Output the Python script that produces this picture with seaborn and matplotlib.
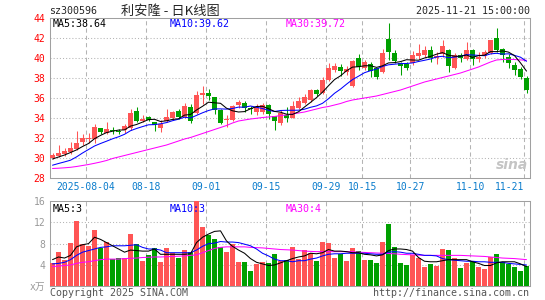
import seaborn as sns
import matplotlib.pyplot as plt
import numpy as np
import pandas as pd

# ---- data ----
holidays = ['2025-10-01', '2025-10-02', '2025-10-03', '2025-10-06', '2025-10-07', '2025-10-08']
dates = [d.strftime('%Y-%m-%d') for d in pd.bdate_range('2025-07-25', '2025-11-21')
         if d.strftime('%Y-%m-%d') not in holidays]

opens = [30.0, 30.15, 30.4, 30.55, 30.9, 31.55, 31.9, 31.9, 33.0, 32.5,
         32.8, 32.65, 32.75, 33.0, 34.7, 33.65, 34.05, 33.55, 33.0, 33.7,
         33.95, 34.65, 34.05, 35.1, 34.45, 36.3, 36.45, 36.0, 34.8, 33.75,
         33.8, 35.25, 35.45, 35.0, 34.55, 34.55, 35.2, 34.1, 33.45, 34.2,
         34.0, 35.0, 35.45, 35.75, 36.75, 36.45, 37.8, 38.8, 39.05, 38.6,
         37.15, 40.0, 39.0, 39.4, 38.9, 38.6, 41.85, 40.45, 39.45, 39.4,
         39.45, 40.2, 40.25, 40.75, 40.0, 40.4, 40.75, 38.95, 40.25, 39.9,
         40.75, 39.85, 40.15, 40.5, 42.0, 40.85, 40.05, 39.3, 38.85, 37.95]
closes = [30.25, 30.5, 30.6, 30.95, 31.5, 31.95, 32.0, 33.0, 32.6, 32.9,
          32.65, 32.55, 33.1, 34.5, 33.7, 33.85, 33.8, 33.25, 33.4, 34.05,
          34.55, 34.1, 35.1, 33.7, 36.3, 36.4, 36.15, 34.8, 33.45, 33.85,
          35.1, 35.55, 35.0, 34.85, 35.0, 35.2, 34.35, 33.65, 34.45, 34.0,
          35.1, 35.65, 36.05, 36.75, 36.4, 37.8, 38.9, 39.1, 38.65, 38.9,
          39.65, 39.1, 39.55, 38.7, 38.05, 40.45, 40.55, 39.7, 39.2, 39.0,
          40.3, 40.45, 40.8, 40.0, 40.1, 41.1, 39.15, 40.3, 39.95, 40.75,
          39.9, 40.05, 40.5, 41.75, 40.75, 40.25, 39.45, 38.75, 38.1, 36.75]
highs = [30.45, 31.25, 31.0, 31.55, 32.7, 32.4, 32.5, 33.4, 33.0, 33.55,
         33.05, 32.9, 33.4, 34.9, 35.05, 34.25, 34.2, 33.6, 33.75, 34.85,
         34.65, 34.9, 35.45, 35.4, 36.7, 37.2, 36.9, 36.1, 34.85, 34.25,
         35.3, 35.75, 35.7, 35.15, 35.4, 35.45, 35.35, 34.2, 34.8, 35.1,
         35.7, 36.1, 36.4, 36.9, 36.9, 38.05, 39.45, 39.5, 39.4, 39.2,
         39.75, 40.4, 39.8, 39.6, 39.0, 40.9, 43.45, 40.8, 39.6, 39.55,
         40.65, 41.4, 41.2, 41.2, 40.6, 41.8, 40.85, 40.5, 40.5, 41.55,
         40.9, 40.6, 40.75, 41.8, 42.95, 41.0, 40.4, 39.6, 39.05, 38.15]
lows = [29.85, 30.05, 30.2, 30.4, 30.75, 31.25, 31.5, 31.45, 32.4, 32.4,
        32.4, 32.4, 32.5, 32.8, 33.6, 33.6, 33.7, 32.7, 32.6, 33.6,
        33.8, 33.9, 33.95, 33.5, 34.4, 35.4, 35.75, 34.4, 33.35, 33.05,
        33.7, 35.0, 34.6, 34.4, 34.25, 34.4, 33.9, 32.8, 33.3, 33.55,
        33.95, 34.9, 35.4, 35.6, 36.2, 36.4, 37.7, 38.6, 38.2, 38.3,
        37.05, 38.8, 38.8, 38.1, 37.9, 38.5, 39.8, 39.5, 38.25, 38.8,
        39.3, 39.9, 40.1, 39.55, 39.4, 40.05, 38.6, 38.9, 39.6, 39.8,
        39.3, 39.6, 39.95, 40.4, 40.55, 39.55, 38.95, 38.3, 37.9, 36.5]
volumes = [4.4, 6.5, 4.9, 8.1, 12.2, 7.9, 7.5, 10.5, 7.1, 8.4,
           5.1, 5.4, 5.4, 9.8, 7.9, 4.8, 5.8, 7.1, 4.5, 7.1,
           6.3, 5.3, 6.9, 6.5, 16.0, 11.1, 9.6, 8.9, 7.4, 6.4,
           8.0, 4.5, 4.5, 2.9, 4.2, 4.6, 4.4, 6.0, 4.8, 5.0,
           7.3, 5.2, 6.9, 6.3, 4.8, 8.4, 8.2, 5.4, 6.0, 4.8,
           7.1, 6.6, 5.0, 5.0, 4.4, 8.3, 11.7, 7.3, 4.4, 4.0,
           5.9, 5.4, 3.7, 4.2, 3.9, 7.0, 6.8, 5.3, 3.4, 4.3,
           4.8, 3.7, 3.2, 5.5, 6.0, 4.6, 4.2, 3.6, 2.9, 3.8]

ma5 = [29.85, 30.05, 30.25, 30.5, 30.76, 31.1, 31.4, 31.88, 32.21, 32.49,
       32.63, 32.74, 32.76, 33.14, 33.3, 33.54, 33.79, 33.82, 33.6, 33.67,
       33.81, 33.87, 34.24, 34.3, 34.75, 35.12, 35.53, 35.47, 35.42, 34.93,
       34.67, 34.55, 34.59, 34.87, 35.1, 35.12, 34.88, 34.61, 34.53, 34.33,
       34.31, 34.57, 35.05, 35.51, 35.99, 36.53, 37.18, 37.79, 38.17, 38.67,
       39.04, 39.08, 39.17, 39.18, 39.01, 39.17, 39.46, 39.49, 39.59, 39.78,
       39.75, 39.73, 39.95, 40.11, 40.33, 40.49, 40.23, 40.13, 40.12, 40.25,
       40.01, 40.19, 40.23, 40.59, 40.59, 40.66, 40.54, 40.19, 39.46, 38.64]
ma10 = [29.23, 29.4, 29.56, 29.73, 30.06, 30.45, 30.8, 31.15, 31.4, 31.63,
        31.87, 32.07, 32.32, 32.68, 32.9, 33.09, 33.27, 33.29, 33.37, 33.49,
        33.68, 33.83, 34.03, 33.95, 34.21, 34.47, 34.7, 34.86, 34.86, 34.84,
        34.9, 35.04, 35.03, 35.15, 35.02, 34.9, 34.72, 34.6, 34.7, 34.72,
        34.72, 34.73, 34.83, 35.02, 35.16, 35.42, 35.88, 36.42, 36.84, 37.33,
        37.79, 38.13, 38.48, 38.68, 38.84, 39.11, 39.27, 39.33, 39.39, 39.4,
        39.46, 39.6, 39.72, 39.85, 40.06, 40.12, 39.98, 40.04, 40.12, 40.29,
        40.25, 40.21, 40.18, 40.36, 40.42, 40.34, 40.37, 40.21, 40.03, 39.62]
ma30 = [28.9, 28.93, 28.97, 29.02, 29.1, 29.2, 29.3, 29.42, 29.55, 29.7,
        29.9, 30.05, 30.2, 30.35, 30.5, 30.65, 30.8, 30.95, 31.1, 31.25,
        31.45, 31.65, 31.85, 32.0, 32.2, 32.4, 32.6, 32.8, 33.0, 33.2,
        33.45, 33.65, 33.75, 33.85, 33.92, 34.0, 34.05, 34.1, 34.2, 34.25,
        34.35, 34.45, 34.55, 34.7, 34.85, 35.0, 35.1, 35.25, 35.4, 35.6,
        35.75, 35.85, 35.95, 36.05, 36.15, 36.3, 36.45, 36.6, 36.75, 36.95,
        37.15, 37.35, 37.55, 37.7, 37.85, 38.0, 38.15, 38.3, 38.45, 38.65,
        38.85, 39.05, 39.3, 39.55, 39.75, 39.8, 39.82, 39.8, 39.76, 39.72]
vol_ma5 = [5.0, 5.5, 5.3, 5.8, 7.4, 7.8, 8.0, 9.2, 8.8, 8.2,
           7.6, 7.0, 6.4, 6.8, 6.7, 6.6, 6.6, 7.0, 6.0, 6.0,
           6.0, 6.0, 6.0, 6.1, 8.2, 9.2, 9.8, 10.3, 10.4, 8.5,
           7.5, 6.8, 6.2, 5.2, 4.5, 4.2, 3.9, 4.0, 4.4, 4.8,
           5.2, 5.5, 5.7, 6.2, 6.1, 6.3, 6.9, 6.6, 6.6, 6.5,
           6.3, 6.3, 6.0, 5.9, 5.7, 5.9, 6.7, 7.0, 7.0, 6.9,
           6.6, 5.4, 4.7, 4.6, 4.6, 4.8, 5.0, 5.0, 5.0, 5.0,
           4.6, 4.3, 3.9, 3.9, 4.4, 4.6, 4.6, 4.6, 4.2, 3.7]
vol_ma10 = [4.2, 4.3, 4.5, 5.0, 5.8, 6.4, 6.7, 7.0, 7.3, 7.4,
            7.6, 7.6, 7.6, 7.7, 7.8, 7.3, 7.0, 7.0, 6.8, 6.3,
            6.3, 6.3, 6.3, 6.3, 6.8, 7.5, 8.0, 8.1, 8.4, 8.3,
            8.3, 8.2, 7.9, 7.6, 7.0, 6.2, 5.7, 5.1, 4.8, 4.8,
            4.6, 4.8, 4.8, 5.1, 5.3, 5.7, 6.0, 6.1, 6.1, 6.2,
            6.2, 6.2, 6.2, 6.1, 6.0, 6.0, 6.4, 6.5, 6.4, 6.2,
            6.2, 6.0, 5.8, 5.8, 5.7, 5.2, 5.0, 4.9, 4.8, 4.7,
            4.7, 4.6, 4.6, 4.5, 4.5, 4.5, 4.3, 4.2, 4.1, 4.0]
vol_ma30 = [3.7, 3.8, 3.9, 4.0, 4.3, 4.5, 4.6, 4.8, 5.0, 5.1,
            5.1, 5.1, 5.2, 5.25, 5.3, 5.4, 5.45, 5.5, 5.5, 5.55,
            5.6, 5.65, 5.7, 5.8, 5.9, 6.3, 6.7, 7.1, 7.3, 7.4,
            7.4, 7.4, 7.4, 7.3, 7.25, 7.2, 7.1, 7.0, 6.9, 6.85,
            6.8, 6.7, 6.6, 6.55, 6.5, 6.5, 6.5, 6.5, 6.5, 6.5,
            6.5, 6.4, 6.35, 6.3, 6.25, 6.2, 6.15, 6.1, 6.0, 5.95,
            5.9, 5.85, 5.8, 5.8, 5.8, 5.8, 5.8, 5.8, 5.8, 5.75,
            5.7, 5.65, 5.6, 5.5, 5.4, 5.3, 5.25, 5.2, 5.1, 5.0]

tick_dates = ['2025-08-04', '2025-08-18', '2025-09-01', '2025-09-15', '2025-09-29',
              '2025-10-15', '2025-10-27', '2025-11-10', '2025-11-21']
tick_labels = ['2025-08-04', '08-18', '09-01', '09-15', '09-29', '10-15', '10-27', '11-10', '11-21']
price_ticks = [28, 30, 32, 34, 36, 38, 40, 42, 44]
vol_ticks = [0, 4, 8, 12, 16]
vol_tick_labels = ['x万', '4', '8', '12', '16']

# ---- style ----
sns.set_style('white')
plt.rcParams['font.family'] = ['DejaVu Sans Mono', 'Noto Sans CJK SC']
RED, GREEN = '#ff5555', '#00a000'
GRID = '#b4b4b4'
FRAME = '#a0a0a0'
LW = 0.75  # about one pixel
W, H = 545, 300

def fx(x):
    return x / W

def fy(y):
    return 1 - y / H

idx = np.arange(len(dates))
up = np.array(closes) >= np.array(opens)
colors = np.where(up, RED, GREEN)
tick_pos = [dates.index(d) - 0.4 for d in tick_dates]

fig = plt.figure(figsize=(W / 100, H / 100), dpi=100)
ax_p = fig.add_axes([fx(50), fy(177.5), fx(529.5) - fx(50), fy(17.5) - fy(177.5)])
ax_v = fig.add_axes([fx(50), fy(286.3), fx(529.5) - fx(50), fy(201) - fy(286.3)])

# candles
body_lo = np.minimum(opens, closes)
body_h = np.maximum(np.abs(np.array(closes) - np.array(opens)), 0.07)
ax_p.vlines(idx, lows, highs, colors=colors, linewidth=LW, zorder=3)
ax_p.bar(idx, body_h, bottom=body_lo, width=0.72, color=colors, linewidth=0, zorder=4)
sns.lineplot(x=idx, y=ma30, ax=ax_p, color='#ff00ff', linewidth=LW, zorder=5)
sns.lineplot(x=idx, y=ma10, ax=ax_p, color='#0000ff', linewidth=LW, zorder=6)
sns.lineplot(x=idx, y=ma5, ax=ax_p, color='black', linewidth=LW, zorder=7)

# volume
ax_v.bar(idx, volumes, width=0.84, color=colors, linewidth=0, zorder=3)
sns.lineplot(x=idx, y=vol_ma30, ax=ax_v, color='#ff00ff', linewidth=LW, zorder=5)
sns.lineplot(x=idx, y=vol_ma10, ax=ax_v, color='#0000ff', linewidth=LW, zorder=6)
sns.lineplot(x=idx, y=vol_ma5, ax=ax_v, color='black', linewidth=LW, zorder=7)

for ax in (ax_p, ax_v):
    ax.set_xlim(-0.42, 79.5)
    for p in tick_pos:
        ax.axvline(p, color=GRID, linewidth=LW, linestyle=(0, (4, 3)), zorder=1)
    for s in ax.spines.values():
        s.set_color(FRAME)
        s.set_linewidth(LW)
    ax.tick_params(length=0)
    ax.set_xlabel('')
    ax.set_ylabel('')

ax_p.set_ylim(28, 44)
for v in price_ticks[1:-1]:
    ax_p.axhline(v, color=GRID, linewidth=LW, linestyle=(0, (1, 2)), zorder=1)
ax_p.set_yticks(price_ticks)
ax_p.set_yticklabels([str(v) for v in price_ticks], color='#ff0000', fontsize=7)
ax_p.tick_params(axis='y', pad=3.5)
ax_p.set_xticks(tick_pos)
ax_p.set_xticklabels(tick_labels, color='#0a7ccc', fontsize=7)
ax_p.tick_params(axis='x', pad=3)
ax_p.get_xticklabels()[-1].set_ha('right')

ax_v.set_ylim(0, 16)
for v in vol_ticks[1:-1]:
    ax_v.axhline(v, color=GRID, linewidth=LW, linestyle=(0, (1, 2)), zorder=1)
ax_v.set_yticks(vol_ticks)
ax_v.set_yticklabels(vol_tick_labels, color='#999999', fontsize=7)
ax_v.tick_params(axis='y', pad=3.5)
ax_v.set_xticks([])

# texts
fig.text(fx(49), fy(11), 'sz300596', fontsize=7.2, va='center', ha='left')
fig.text(fx(121), fy(11), '利安隆 - 日K线图', fontsize=9.5, va='center', ha='left',
         family=['Noto Sans CJK SC'])
fig.text(fx(529.5), fy(11), '2025-11-21 15:00:00', fontsize=7.2, va='center', ha='right')
fig.text(fx(53), fy(24), 'MA5:38.64', fontsize=7.2, va='center', color='black')
fig.text(fx(170), fy(24), 'MA10:39.62', fontsize=7.2, va='center', color='#0000ff')
fig.text(fx(286), fy(24), 'MA30:39.72', fontsize=7.2, va='center', color='#ff00ff')
fig.text(fx(53), fy(209), 'MA5:3', fontsize=7.2, va='center', color='black')
fig.text(fx(170), fy(209), 'MA10:3', fontsize=7.2, va='center', color='#0000ff')
fig.text(fx(286), fy(209), 'MA30:4', fontsize=7.2, va='center', color='#ff00ff')
fig.text(fx(50), fy(293), 'Copyright 2025 SINA.COM', fontsize=7.2, va='center', color='#555555')
fig.text(fx(529.5), fy(293), 'http://finance.sina.com.cn', fontsize=7.2, va='center',
         ha='right', color='#555555')
fig.text(fx(512), fy(165), 'sina', fontsize=10, va='center', ha='center', color='#c4c4c4',
         style='italic', weight='bold', family=['DejaVu Sans'])

fig.savefig('out.png', dpi=100)
